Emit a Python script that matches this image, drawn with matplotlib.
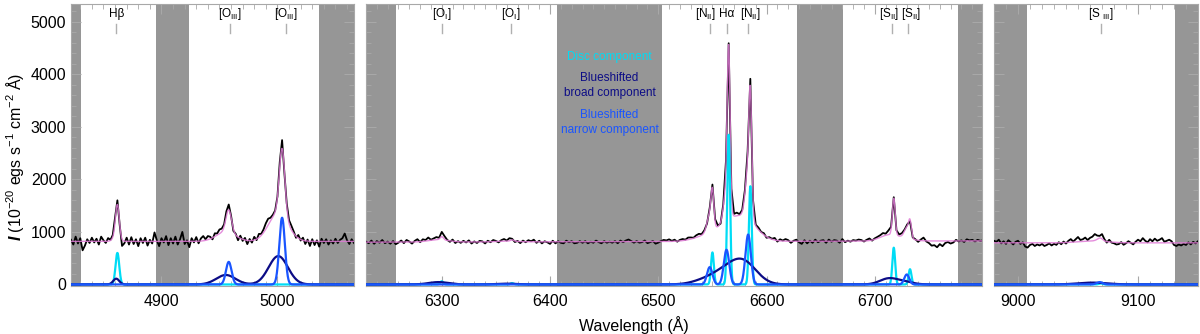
import numpy as np
import matplotlib
matplotlib.use('Agg')
import matplotlib.pyplot as plt
from matplotlib.ticker import MultipleLocator

plt.rcParams['font.family'] = ['Liberation Sans', 'DejaVu Sans']
plt.rcParams['mathtext.fontset'] = 'custom'
plt.rcParams['mathtext.rm'] = 'Liberation Sans'
plt.rcParams['mathtext.it'] = 'Liberation Sans:italic'
plt.rcParams['mathtext.bf'] = 'Liberation Sans:bold'
plt.rcParams['mathtext.bfit'] = 'Liberation Sans:italic:bold'

# ---------------- data ----------------
panel_xlim = [(4822, 5066), (6230, 6799), (8980, 9150)]
grid_start = [4822, 6230, 8980]
grid_step = [2.0, 2.5, 2.0]
continuum = [(820, 820), (805, 830), (792, 792)]

gray_bands = [
    [(4800, 4830.5), (4895, 4924), (5035.5, 5100)],
    [(6200, 6257.5), (6406, 6503.5), (6628, 6670.5), (6777, 6850)],
    [(8950, 9007.5), (9131, 9200)],
]

line_names = ['Hβ', r'[O$_{\rm III}$]', r'[O$_{\rm III}$]', r'[O$_{\rm I}$]', r'[O$_{\rm I}$]',
              r'[N$_{\rm II}$]', 'Hα', r'[N$_{\rm II}$]', r'[S$_{\rm II}$]', r'[S$_{\rm II}$]',
              r'[S $_{\rm III}$]']
line_waves = [4861, 4959, 5007, 6300, 6364, 6548, 6563, 6583, 6716, 6731, 9069]
label_waves = [4861, 4959, 5007, 6300, 6364, 6543.5, 6563, 6585, 6713.5, 6734, 9069]

# Gaussian components: disc (cyan), blueshifted broad (navy), blueshifted narrow (blue)
disc_center = [4862, 6300, 6365, 6550, 6565, 6585, 6717.5, 6732.5, 9069]
disc_amp = [600, 60, 25, 610, 2850, 1870, 700, 290, 20]
disc_sigma = [1.6, 1.5, 1.5, 1.3, 1.3, 1.3, 1.3, 1.3, 1.5]

broad_center = [4861, 4955.5, 5000.7, 6297, 6360, 6544, 6562, 6579, 6712.5, 6727, 9062]
broad_amp = [110, 180, 540, 45, 15, 80, 200, 400, 110, 50, 35]
broad_sigma = [2.6, 8.3, 8.3, 9, 9, 12, 12, 12, 8, 8, 12]

narrow_center = [4958, 5004, 6547.5, 6563, 6583, 6729.5, 9068]
narrow_amp = [430, 1270, 330, 660, 950, 190, 45]
narrow_sigma = [2.4, 2.4, 2.5, 2.5, 2.5, 2.3, 2.5]

resid_blue = [30, -60, 90, -40, 60, -170, -80, 40, -30, 70,
              -20, 50, -60, 90, 20, -30, 60, 10, 40, 80,
              80, -20, -130, -40, 70, -60, 80, -50, 40, -90,
              60, -30, 70, -80, 30, -40, 170, 20, -90, 60,
              -20, 100, -70, 60, -40, 90, -60, 40, 180, -50,
              20, -110, 60, -20, 80, -40, 50, 90, 20, 70,
              40, -30, 60, 30, 80, 60, 40, 90, 100, 30,
              -40, 20, -60, 50, -30, 40, -70, 30, -40, 60,
              -20, 70, 30, 60, 110, 120, 60, 40, 20, 0,
              80, 160, -40, 40, 60, 80, 40, -30, 60, -20,
              50, -60, 30, -90, 40, -70, 20, -100, 50, -30,
              40, -60, 20, -40, 50, -30, 30, 60, 150, 20,
              -50, 40, -30]
resid_red = [10, -20, 30, -30, 20, -10, 40, -20, 10, -30,
             20, -40, -10, 30, -20, 40, 10, -30, 20, 50,
             -10, 40, 20, 60, 10, 30, 50, 20, 90, 60,
             10, -20, 30, -30, 10, -20, 20, -10, 30, -30,
             10, -20, 20, 10, -30, 20, -10, 30, 10, -20,
             20, 40, 10, 50, 20, -20, 10, -30, 20, -10,
             30, 10, 40, -20, 20, -30, 10, -10, -40, 20,
             -30, 10, -20, -30, 20, -10, 10, -30, -20, 10,
             -20, 10, -30, 0, -20, 20, -10, -30, 10, -20,
             0, -20, 10, -30, 20, -10, 20, 40, 10, -20,
             10, -20, -10, 20, -30, -10, 10, -40, -20, 10,
             30, 20, 40, 10, 30, -10, 20, 30, 10, 40,
             30, 10, 40, 50, 20, 30, -20, 30, 60, 40,
             20, -30, 40, 60, 30, -20, 40, 60, 20, 30,
             50, 60, 150, -30, 20, 40, 10, 30, -20, 20,
             10, 40, -20, 30, 10, 40, 20, -30, 10, 30,
             -20, -50, 20, -40, 10, -30, 30, -20, 10, 20,
             -30, 30, -10, 20, 10, -30, 40, -20, 10, -10,
             20, 10, 30, 20, -10, 20, 40, -10, 20, 30,
             40, 60, 30, 80, 40, 20, -10, 30, 40, 20,
             30, -40, -20, 10, -30, 20, 60, -10, -40, -90,
             -80, -120, -60, -100, -40, -20, -50, -30, 20, -10,
             10, -20, 30, 10, 20, -10, 20, 0, 10]
resid_ir = [40, 20, 60, -10, 30, -20, 50, 10, -30, 20,
            40, -20, 10, -70, -90, -40, -20, -60, -30, -50,
            -20, -60, -40, -10, -50, -20, -40, 10, -30, 20,
            -20, 30, 60, 10, 50, 90, 30, 40, 70, 20,
            60, 80, 120, 70, 40, 90, 30, -20, 40, -10,
            -20, -40, -30, 10, -40, -10, 30, 0, -30, 20,
            60, 30, 90, 40, 10, 70, 30, 80, 40, 60,
            90, 20, 40, 60, 30, -40, -60, -30, -50, -20,
            -40, 10, -30, 20, -10, 30]
residuals = [resid_blue, resid_red, resid_ir]

# ---------------- helpers ----------------
def gauss_sum(w, centers, amps, sigmas):
    out = np.zeros_like(w, dtype=float)
    for c, a, s in zip(centers, amps, sigmas):
        out += a * np.exp(-0.5 * ((w - c) / s) ** 2)
    return out

def cont(w, lim, c):
    return c[0] + (c[1] - c[0]) * (w - lim[0]) / (lim[1] - lim[0])

C_DISC = '#00dcf5'
C_BROAD = '#0c0c86'
C_NARROW = '#1a55ff'
C_MODEL = '#e07ad6'
C_GRAY = '#969696'
C_FRAME = '#a8a8a8'

fig = plt.figure(figsize=(12, 3.34), dpi=100)
W, H = 1200, 334
bottom_px, top_px = 285.5, 4
ax_px = [(71, 354), (366, 982), (994, 1198)]
ylim = (-20, 5340)

axes = []
for i, (x0, x1) in enumerate(ax_px):
    ax = fig.add_axes([x0 / W, 1 - bottom_px / H, (x1 - x0) / W, (bottom_px - top_px) / H])
    axes.append(ax)
    lim = panel_xlim[i]
    for (a, b) in gray_bands[i]:
        ax.axvspan(a, b, color=C_GRAY, lw=0, zorder=0)

    wf = np.arange(lim[0], lim[1] + 0.01, 0.1)
    disc = gauss_sum(wf, disc_center, disc_amp, disc_sigma)
    broad = gauss_sum(wf, broad_center, broad_amp, broad_sigma)
    narrow = gauss_sum(wf, narrow_center, narrow_amp, narrow_sigma)
    model = cont(wf, lim, continuum[i]) + disc + broad + narrow

    res = np.array(residuals[i], dtype=float)
    wd = grid_start[i] + grid_step[i] * np.arange(len(res))
    obs = (cont(wd, lim, continuum[i])
           + gauss_sum(wd, disc_center, disc_amp, disc_sigma)
           + gauss_sum(wd, broad_center, broad_amp, broad_sigma)
           + gauss_sum(wd, narrow_center, narrow_amp, narrow_sigma) + res)

    ax.plot(wd, obs, color='black', lw=1.3, zorder=3)
    ax.plot(wf, model, color=C_MODEL, lw=1.0, alpha=0.85, zorder=4)
    ax.plot(wf, disc, color=C_DISC, lw=1.6, zorder=5)
    ax.plot(wf, broad, color=C_BROAD, lw=1.6, zorder=6)
    ax.plot(wf, narrow, color=C_NARROW, lw=1.6, zorder=7)

    for name, w, wl in zip(line_names, line_waves, label_waves):
        if lim[0] < w < lim[1]:
            ax.plot([w, w], [4790, 4950], color='#b0b0b0', lw=1, zorder=2)
            ax.text(wl, 5150, name, ha='center', va='center', fontsize=8.5, zorder=8)

    ax.set_xlim(lim)
    ax.set_ylim(ylim)
    ax.xaxis.set_major_locator(MultipleLocator(100))
    ax.xaxis.set_minor_locator(MultipleLocator(10))
    ax.yaxis.set_major_locator(MultipleLocator(1000))
    ax.yaxis.set_minor_locator(MultipleLocator(200))
    ax.tick_params(which='both', direction='in', top=True, right=True,
                   color=C_FRAME, labelcolor='black', labelsize=11.5)
    ax.tick_params(which='major', length=7, width=0.8)
    ax.tick_params(which='minor', length=3.5, width=0.6)
    ax.tick_params(axis='x', pad=6)
    for sp in ax.spines.values():
        sp.set_color(C_FRAME)
        sp.set_linewidth(0.8)
    if i > 0:
        ax.tick_params(labelleft=False)

# legend-like texts in the middle panel
axm = axes[1]
axm.text(6455, 4340, 'Disc component', color=C_DISC, ha='center', va='center', fontsize=8.5, zorder=9)
axm.text(6455, 3790, 'Blueshifted\nbroad component', color=C_BROAD, ha='center', va='center',
         fontsize=8.5, linespacing=1.35, zorder=9)
axm.text(6455, 3090, 'Blueshifted\nnarrow component', color=C_NARROW, ha='center', va='center',
         fontsize=8.5, linespacing=1.35, zorder=9)

fig.text(15 / W, 1 - 157 / H,
         r'$\mathbfit{I}$ (10$^{-20}$ egs s$^{-1}$ cm$^{-2}$ Å)',
         rotation=90, ha='center', va='center', fontsize=11.5)
fig.text(634 / W, 1 - 325 / H, 'Wavelength (Å)', ha='center', va='center', fontsize=11.5)

fig.savefig('out.png', dpi=100)
